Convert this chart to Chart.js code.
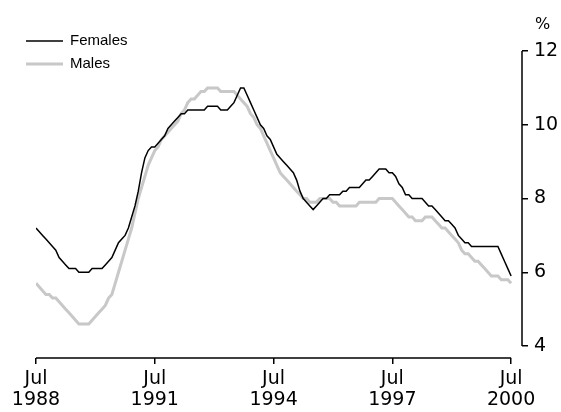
<!DOCTYPE html>
<html>
<head>
<meta charset="utf-8">
<script src="https://cdn.jsdelivr.net/npm/chart.js@4.4.1/dist/chart.umd.min.js"></script>
<style>
  html, body { margin: 0; padding: 0; background: #fff; }
  #wrap { width: 561px; height: 412px; }
</style>
</head>
<body>
<div id="wrap"><canvas id="chart" width="561" height="412"></canvas></div>
<script>
// monthly, Jul 1988 (index 0) to Jul 2000 (index 144)
const seriesNames = ["Females", "Males"];

const females = [
  7.2, 7.1, 7.0, 6.9, 6.8, 6.7, 6.6, 6.4, 6.3, 6.2, 6.1, 6.1,
  6.1, 6.0, 6.0, 6.0, 6.0, 6.1, 6.1, 6.1, 6.1, 6.2, 6.3, 6.4,
  6.6, 6.8, 6.9, 7.0, 7.2, 7.5, 7.8, 8.2, 8.7, 9.1, 9.3, 9.4,
  9.4, 9.5, 9.6, 9.7, 9.9, 10.0, 10.1, 10.2, 10.3, 10.3, 10.4, 10.4,
  10.4, 10.4, 10.4, 10.4, 10.5, 10.5, 10.5, 10.5, 10.4, 10.4, 10.4, 10.5,
  10.6, 10.8, 11.0, 11.0, 10.8, 10.6, 10.4, 10.2, 10.0, 9.9, 9.7, 9.6,
  9.4, 9.2, 9.1, 9.0, 8.9, 8.8, 8.7, 8.5, 8.2, 8.0, 7.9, 7.8,
  7.7, 7.8, 7.9, 8.0, 8.0, 8.1, 8.1, 8.1, 8.1, 8.2, 8.2, 8.3,
  8.3, 8.3, 8.3, 8.4, 8.5, 8.5, 8.6, 8.7, 8.8, 8.8, 8.8, 8.7,
  8.7, 8.6, 8.4, 8.3, 8.1, 8.1, 8.0, 8.0, 8.0, 8.0, 7.9, 7.8,
  7.8, 7.7, 7.6, 7.5, 7.4, 7.4, 7.3, 7.2, 7.0, 6.9, 6.8, 6.8,
  6.7, 6.7, 6.7, 6.7, 6.7, 6.7, 6.7, 6.7, 6.7, 6.5, 6.3, 6.1,
  5.9
];

const males = [
  5.7, 5.6, 5.5, 5.4, 5.4, 5.3, 5.3, 5.2, 5.1, 5.0, 4.9, 4.8,
  4.7, 4.6, 4.6, 4.6, 4.6, 4.7, 4.8, 4.9, 5.0, 5.1, 5.3, 5.4,
  5.7, 6.0, 6.3, 6.6, 6.9, 7.2, 7.6, 8.0, 8.3, 8.6, 8.9, 9.1,
  9.3, 9.4, 9.6, 9.7, 9.8, 9.9, 10.0, 10.1, 10.3, 10.4, 10.6, 10.7,
  10.7, 10.8, 10.9, 10.9, 11.0, 11.0, 11.0, 11.0, 10.9, 10.9, 10.9, 10.9,
  10.9, 10.8, 10.7, 10.6, 10.5, 10.3, 10.2, 10.0, 9.9, 9.7, 9.5, 9.3,
  9.1, 8.9, 8.7, 8.6, 8.5, 8.4, 8.3, 8.2, 8.1, 8.0, 8.0, 7.9,
  7.9, 7.9, 8.0, 8.0, 8.0, 8.0, 7.9, 7.9, 7.8, 7.8, 7.8, 7.8,
  7.8, 7.8, 7.9, 7.9, 7.9, 7.9, 7.9, 7.9, 8.0, 8.0, 8.0, 8.0,
  8.0, 7.9, 7.8, 7.7, 7.6, 7.5, 7.5, 7.4, 7.4, 7.4, 7.5, 7.5,
  7.5, 7.4, 7.3, 7.2, 7.2, 7.1, 7.0, 6.9, 6.8, 6.6, 6.5, 6.5,
  6.4, 6.3, 6.3, 6.2, 6.1, 6.0, 5.9, 5.9, 5.9, 5.8, 5.8, 5.8,
  5.7
];

const xTickIdx = [0, 36, 72, 108, 144];
const xTickLabels = [["Jul", "1988"], ["Jul", "1991"], ["Jul", "1994"], ["Jul", "1997"], ["Jul", "2000"]];
const yTicks = [4, 6, 8, 10, 12];

const tickFont = { family: "DejaVu Sans", size: 19, lineHeight: 1.1 };

// axis lines (they stop at the end ticks), "%" unit and the legend
const extras = {
  id: "extras",
  afterDraw(chart) {
    const { ctx, chartArea, scales } = chart;
    const x = scales.x, y = scales.y;
    ctx.save();
    ctx.strokeStyle = "#000";
    ctx.lineWidth = 1.5;
    ctx.beginPath();
    ctx.moveTo(x.getPixelForValue(xTickIdx[0]), chartArea.bottom);
    ctx.lineTo(x.getPixelForValue(xTickIdx[xTickIdx.length - 1]), chartArea.bottom);
    ctx.moveTo(chartArea.right, y.getPixelForValue(yTicks[yTicks.length - 1]));
    ctx.lineTo(chartArea.right, y.getPixelForValue(yTicks[0]));
    ctx.stroke();

    ctx.fillStyle = "#000";
    ctx.font = "16px 'DejaVu Sans'";
    ctx.textBaseline = "middle";
    ctx.fillText("%", 535, 25);

    ctx.font = "15px 'Liberation Sans'";
    chart.data.datasets.forEach((ds, i) => {
      const ly = 41 + i * 23;
      ctx.strokeStyle = ds.borderColor;
      ctx.lineWidth = ds.borderWidth;
      ctx.beginPath();
      ctx.moveTo(26, ly);
      ctx.lineTo(63, ly);
      ctx.stroke();
      ctx.fillText(ds.label, 70, ly);
    });
    ctx.restore();
  }
};

new Chart(document.getElementById("chart"), {
  type: "line",
  data: {
    datasets: [
      {
        label: seriesNames[0],
        data: females.map((v, i) => ({ x: i, y: v })),
        borderColor: "#000000",
        borderWidth: 1.5,
      },
      {
        label: seriesNames[1],
        data: males.map((v, i) => ({ x: i, y: v })),
        borderColor: "#c8c8c8",
        borderWidth: 3,
      },
    ],
  },
  options: {
    responsive: false,
    animation: false,
    layout: { padding: { left: 36, top: 51, right: 0, bottom: 0 } },
    elements: { point: { radius: 0 }, line: { tension: 0 } },
    plugins: { legend: { display: false }, tooltip: { enabled: false } },
    scales: {
      x: {
        type: "linear",
        min: 0,
        max: 147.3,
        afterBuildTicks: (scale) => { scale.ticks = xTickIdx.map((v) => ({ value: v })); },
        afterFit: (scale) => { scale.height = 54; },
        border: { display: false },
        grid: { drawOnChartArea: false, drawTicks: true, tickLength: 6, color: "#000", lineWidth: 1.5 },
        ticks: {
          autoSkip: false,
          maxRotation: 0,
          padding: 5,
          color: "#000",
          font: tickFont,
          callback: (v) => xTickLabels[xTickIdx.indexOf(v)],
        },
      },
      y: {
        position: "right",
        min: 3.675,
        max: 12,
        afterBuildTicks: (scale) => { scale.ticks = yTicks.map((v) => ({ value: v })); },
        afterFit: (scale) => { scale.width = 39; },
        border: { display: false },
        grid: { drawOnChartArea: false, drawTicks: true, tickLength: 6, color: "#000", lineWidth: 1.5 },
        ticks: { padding: 6, color: "#000", font: tickFont },
      },
    },
  },
  plugins: [extras],
});
</script>
</body>
</html>
